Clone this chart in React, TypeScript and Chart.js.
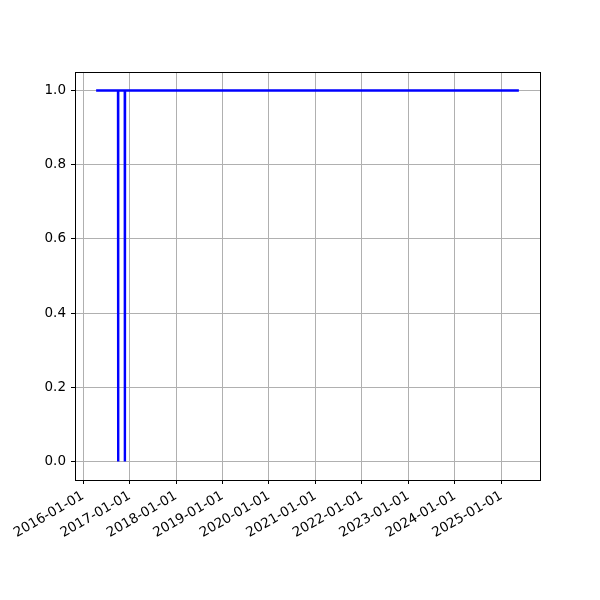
import React, { useEffect, useRef } from "react";
import { Chart, registerables } from "chart.js";

Chart.register(...registerables);

const dates = [
  "2016-04-13",
  "2016-10-02",
  "2016-10-03",
  "2016-10-04",
  "2016-11-24",
  "2016-11-25",
  "2016-11-26",
  "2025-05-18",
];
const values = [1, 1, 0, 1, 1, 0, 1, 1];

const xTickLabels = [
  "2016-01-01",
  "2017-01-01",
  "2018-01-01",
  "2019-01-01",
  "2020-01-01",
  "2021-01-01",
  "2022-01-01",
  "2023-01-01",
  "2024-01-01",
  "2025-01-01",
];
const yTicks = [0, 0.2, 0.4, 0.6, 0.8, 1.0];

const toMs = (s: string) => {
  const [y, m, d] = s.split("-").map(Number);
  return Date.UTC(y, m - 1, d);
};

const framePlugin = {
  id: "frame",
  afterDraw(chart: any) {
    const { ctx, chartArea } = chart;
    ctx.save();
    ctx.strokeStyle = "#000";
    ctx.lineWidth = 1;
    ctx.strokeRect(
      Math.round(chartArea.left) + 0.5,
      Math.round(chartArea.top) + 0.5,
      Math.round(chartArea.right - chartArea.left),
      Math.round(chartArea.bottom - chartArea.top)
    );
    ctx.restore();
  },
};

export default function App() {
  const ref = useRef<HTMLCanvasElement | null>(null);
  useEffect(() => {
    document.body.style.margin = "0";
    const xs = dates.map(toMs);
    const lo = Math.min(...xs);
    const hi = Math.max(...xs);
    const pad = (hi - lo) * 0.05;
    const tickVals = xTickLabels.map(toMs);
    const font = { family: "DejaVu Sans", size: 13.5 };
    const chart = new Chart(ref.current!, {
      type: "line",
      data: {
        datasets: [
          {
            data: xs.map((x, i) => ({ x, y: values[i] })),
            borderColor: "#0000ff",
            borderWidth: 2.4,
            pointRadius: 0,
            fill: false,
            tension: 0,
          },
        ],
      },
      options: {
        animation: false,
        responsive: false,
        layout: { padding: { left: 0, top: 72, right: 60, bottom: 0 } },
        plugins: { legend: { display: false }, tooltip: { enabled: false } },
        scales: {
          x: {
            type: "linear",
            min: lo - pad,
            max: hi + pad,
            afterBuildTicks: (s: any) => {
              s.ticks = tickVals.map((v) => ({ value: v }));
            },
            afterFit: (s: any) => {
              s.height = 120;
            },
            ticks: {
              autoSkip: false,
              minRotation: 30,
              maxRotation: 30,
              color: "#000",
              font,
              padding: 4,
              callback: (v: any) => {
                const i = tickVals.indexOf(Number(v));
                return i >= 0 ? xTickLabels[i] : "";
              },
            },
            grid: {
              color: "#b0b0b0",
              lineWidth: 1,
              tickColor: "#000",
              tickLength: 4,
            },
            border: { display: true, color: "#000" },
          },
          y: {
            type: "linear",
            min: -0.05,
            max: 1.05,
            afterBuildTicks: (s: any) => {
              s.ticks = yTicks.map((v) => ({ value: v }));
            },
            afterFit: (s: any) => {
              s.width = 75;
            },
            ticks: {
              color: "#000",
              font,
              padding: 5,
              callback: (v: any) => Number(v).toFixed(1),
            },
            grid: {
              color: "#b0b0b0",
              lineWidth: 1,
              tickColor: "#000",
              tickLength: 4,
            },
            border: { display: true, color: "#000" },
          },
        },
      },
      plugins: [framePlugin],
    });
    return () => chart.destroy();
  }, []);
  return <canvas ref={ref} width={600} height={600} style={{ display: "block" }} />;
}
